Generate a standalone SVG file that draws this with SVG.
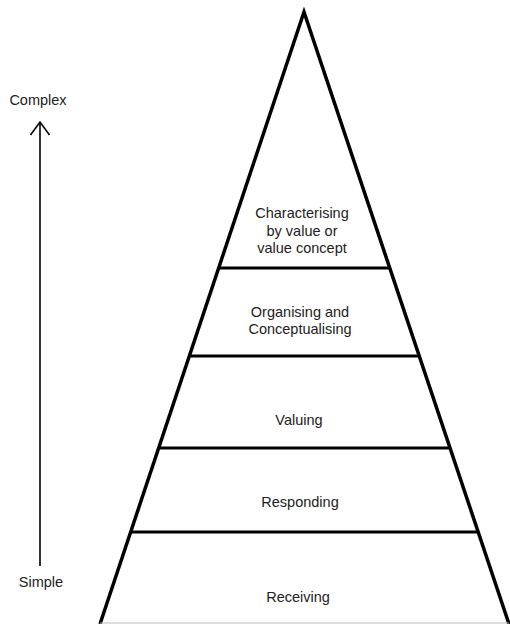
<svg xmlns="http://www.w3.org/2000/svg" width="510" height="624" viewBox="0 0 510 624">
<style>
text{font-family:"Liberation Sans",Arial,sans-serif;font-size:14.5px;fill:#222;text-anchor:middle}
.edge{stroke:#000;stroke-width:3.5;fill:none;stroke-linejoin:miter}
.sep{stroke:#000;stroke-width:3;fill:none}
.arr{stroke:#000;stroke-width:1.6;fill:none}
</style>
<rect width="510" height="624" fill="#fff"/>
<g id="connectors">
<line class="arr" x1="40" y1="124" x2="40" y2="566"/>
<polyline class="arr" points="30.5,135 40,122 49.5,135"/>
</g>
<g id="pyramid">
<polyline class="edge" points="100,624 304,12 509,624"/>
<line x1="100" y1="623" x2="509" y2="623" stroke="#bbb" stroke-width="1"/>
</g>
<g id="level-characterising">
<line class="sep" x1="219" y1="268" x2="390" y2="268"/>
<text x="302" y="218">Characterising</text>
<text x="302" y="236">by value or</text>
<text x="302" y="253">value concept</text>
</g>
<g id="level-organising">
<line class="sep" x1="190" y1="356" x2="419" y2="356"/>
<text x="300" y="317">Organising and</text>
<text x="300" y="334">Conceptualising</text>
</g>
<g id="level-valuing">
<line class="sep" x1="159" y1="448" x2="450" y2="448"/>
<text x="299" y="425">Valuing</text>
</g>
<g id="level-responding">
<line class="sep" x1="131" y1="532" x2="478" y2="532"/>
<text x="300" y="507">Responding</text>
</g>
<g id="level-receiving">
<text x="298" y="602">Receiving</text>
</g>
<g id="label-complex"><text x="38" y="105">Complex</text></g>
<g id="label-simple"><text x="41" y="587">Simple</text></g>
</svg>
